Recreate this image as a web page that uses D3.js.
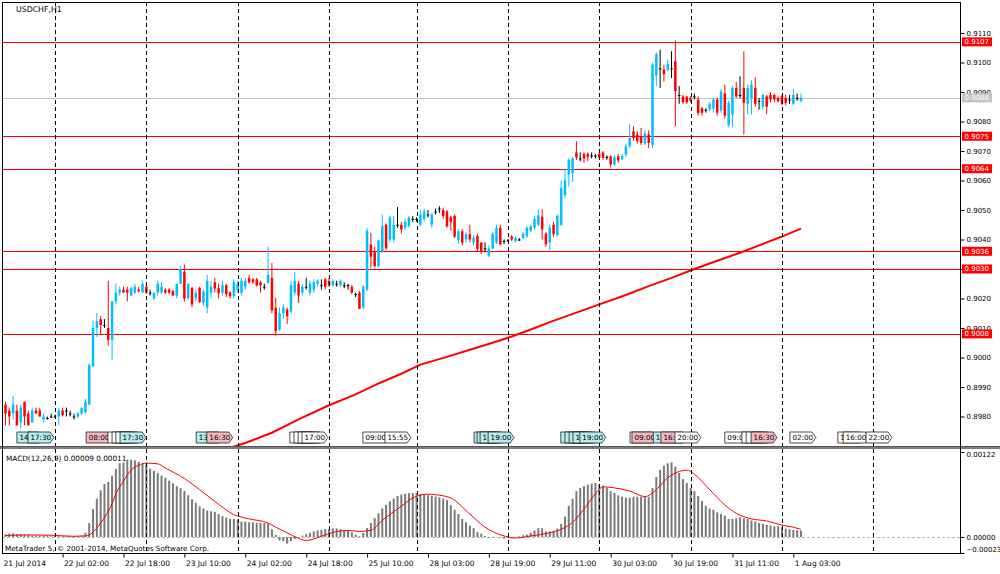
<!DOCTYPE html>
<html><head><meta charset="utf-8">
<script src="https://cdn.jsdelivr.net/npm/d3@7"></script>
<style>html,body{margin:0;padding:0;background:#fff;}svg{display:block;}text{font-family:"DejaVu Sans",sans-serif;}</style>
</head><body><svg id="c" width="1000" height="574"></svg>
<script>
// ---------------- DATA ----------------
const symbolTitle = "USDCHF,H1";
const macdTitle = "MACD(12,26,9) 0.00009 0.00011";
const copyright = "MetaTrader 5, \u00a9 2001-2014, MetaQuotes Software Corp.";

const opens = [
0.8984,0.8982,0.8981,0.8982,0.8978,0.8985,0.8981,0.8978,0.8982,0.8982,
0.8979,0.89795,0.898,0.898,0.898,0.8982,0.8982,0.8981,0.898,0.898,
0.8981,0.89815,0.8984,0.8997,0.901,0.9013,0.9011,0.901,0.9006,0.9019,
0.9022,0.9023,0.9023,0.9021,0.9022,0.9023,0.9022,0.9024,0.9022,0.902,
0.9022,0.9022,0.9023,0.9023,0.90225,0.9021,0.9025,0.9029,0.902,0.90235,
0.902,0.90236,0.90185,0.9017,0.9022,0.90255,0.90235,0.9022,0.90245,0.9022,
0.90208,0.9023,0.9022,0.9024,0.9027,0.90265,0.90265,0.90255,0.9024,0.90253,
0.9027,0.90168,0.90095,0.9015,0.90163,0.90155,0.9022,0.9025,0.9022,0.9024,
0.9022,0.9023,0.9025,0.90245,0.90265,0.9026,0.90245,0.9025,0.90245,0.90245,
0.90245,0.9024,0.90215,0.9022,0.9017,0.9023,0.90383,0.9036,0.9031,0.9036,
0.9045,0.904,0.904,0.9045,0.9045,0.9044,0.90445,0.9047,0.9047,0.9045,
0.9047,0.90485,0.9045,0.90495,0.90505,0.905,0.90495,0.90475,0.9048,0.90398,
0.90428,0.904,0.90418,0.9039,0.90412,0.9039,0.9037,0.90345,0.9037,0.9039,
0.9044,0.90395,0.90397,0.9041,0.90395,0.904,0.90405,0.90412,0.9043,0.9044,
0.9045,0.90477,0.9042,0.9039,0.9045,0.90415,0.9045,0.9055,0.9062,0.90625,
0.90695,0.90675,0.9069,0.9069,0.90685,0.90685,0.9069,0.90695,0.9068,0.90682,
0.90654,0.90682,0.90672,0.90688,0.90716,0.90767,0.90756,0.9075,0.90725,0.90756,
0.9072,0.90956,0.9098,0.90976,0.90975,0.9098,0.91004,0.9089,0.90885,0.90885,
0.9088,0.90885,0.90874,0.90845,0.9084,0.90841,0.90844,0.90874,0.90837,0.90896,
0.90788,0.90824,0.90914,0.9089,0.90914,0.9086,0.9088,0.90914,0.9087,0.9085,
0.90885,0.9089,0.9089,0.9088,0.90885,0.9088,0.90875,0.9086,0.9088,0.9087];

const highs = [
0.8985,0.8983,0.8987,0.8984,0.8984,0.8985,0.8982,0.8983,0.8983,0.8983,
0.8981,0.898,0.8981,0.89805,0.8983,0.8983,0.8983,0.8982,0.8981,0.89815,
0.8983,0.8986,0.8998,0.90125,0.9015,0.9014,0.9013,0.9026,0.9019,0.9025,
0.9024,0.9024,0.9024,0.9024,0.9025,0.9024,0.9026,0.9025,0.9023,0.9022,
0.9026,0.90255,0.90235,0.90235,0.9023,0.9025,0.9031,0.90315,0.9025,0.9024,
0.9023,0.9024,0.9023,0.9028,0.9026,0.9027,0.9025,0.9026,0.9025,0.90225,
0.90265,0.9026,0.9027,0.9027,0.9028,0.9027,0.9027,0.9026,0.9025,0.90375,
0.9032,0.90203,0.9017,0.9018,0.9017,0.9026,0.9029,0.9026,0.9025,0.9027,
0.9026,0.90265,0.90265,0.90265,0.9027,0.9027,0.90265,0.9026,0.90265,0.90255,
0.9025,0.90245,0.9022,0.90225,0.90245,0.9044,0.90423,0.90375,0.904,0.90484,
0.90455,0.9048,0.9048,0.9051,0.9046,0.9047,0.9048,0.9048,0.90475,0.905,
0.90505,0.905,0.9049,0.90505,0.90513,0.90508,0.905,0.9048,0.90485,0.90435,
0.90435,0.90425,0.9045,0.90415,0.9042,0.9039,0.9039,0.9038,0.90425,0.9045,
0.9045,0.904,0.90402,0.90415,0.9041,0.90405,0.90425,0.90445,0.9045,0.9048,
0.90502,0.90502,0.90425,0.9045,0.9046,0.90485,0.906,0.9064,0.90675,0.9068,
0.90733,0.90695,0.90695,0.90695,0.90695,0.9069,0.90695,0.907,0.90685,0.90685,
0.90685,0.9069,0.9069,0.90725,0.9079,0.90784,0.90767,0.90778,0.9077,0.9077,
0.91,0.91035,0.91043,0.90993,0.9101,0.91038,0.91075,0.9092,0.9089,0.90885,
0.90885,0.90895,0.90885,0.9085,0.90845,0.90865,0.9088,0.9088,0.9091,0.90925,
0.9087,0.9092,0.90934,0.90953,0.91038,0.90925,0.9094,0.9095,0.9088,0.90895,
0.9089,0.909,0.90895,0.90885,0.9089,0.9089,0.9089,0.9091,0.90895,0.90895];

const lows = [
0.8977,0.8977,0.8979,0.8977,0.8976,0.8977,0.8977,0.8978,0.8981,0.898,
0.8978,0.8979,0.89795,0.89795,0.8977,0.898,0.898,0.898,0.8979,0.89795,
0.89805,0.8981,0.8984,0.8997,0.9007,0.9008,0.901,0.9004,0.8999,0.9018,
0.9021,0.9022,0.9019,0.9021,0.90215,0.9022,0.9022,0.90215,0.9021,0.90195,
0.9021,0.90215,0.90215,0.90215,0.9021,0.902,0.9025,0.9019,0.90195,0.9017,
0.9019,0.90185,0.90174,0.9015,0.902,0.9022,0.902,0.9021,0.90205,0.902,
0.902,0.9022,0.9021,0.9023,0.9025,0.9025,0.9024,0.9022,0.9023,0.9025,
0.9015,0.90072,0.9009,0.9013,0.90114,0.9015,0.9021,0.90185,0.9021,0.9023,
0.9021,0.9022,0.9024,0.9023,0.9023,0.9024,0.9024,0.9024,0.9024,0.90235,
0.9023,0.90215,0.90205,0.90165,0.90165,0.90225,0.90304,0.90305,0.90305,0.90355,
0.90365,0.9039,0.9039,0.9044,0.9042,0.9043,0.9044,0.9046,0.9046,0.90445,
0.9046,0.90475,0.9044,0.90485,0.9049,0.9047,0.9044,0.9043,0.90405,0.90385,
0.9038,0.9039,0.9039,0.9038,0.9036,0.9035,0.90358,0.9034,0.90365,0.90385,
0.9038,0.90385,0.90392,0.90395,0.9039,0.90395,0.904,0.90405,0.90425,0.90435,
0.90445,0.904,0.90375,0.90365,0.9041,0.9041,0.90445,0.9054,0.9058,0.90595,
0.9067,0.90665,0.9066,0.90665,0.90675,0.90675,0.90675,0.9067,0.9067,0.90645,
0.9065,0.9066,0.9067,0.9068,0.9071,0.90735,0.90725,0.9072,0.9072,0.9071,
0.9071,0.9092,0.90914,0.90936,0.9097,0.90947,0.90784,0.9086,0.9086,0.9086,
0.90865,0.90875,0.9082,0.9082,0.9083,0.90835,0.9083,0.9082,0.9083,0.9081,
0.9078,0.9078,0.9088,0.9088,0.90756,0.90824,0.90824,0.9085,0.9084,0.9084,
0.90825,0.90865,0.90865,0.90865,0.90855,0.90855,0.9086,0.90855,0.9087,0.90865];

const closes = [
0.8981,0.898,0.8984,0.8977,0.8983,0.898,0.8977,0.8982,0.8981,0.898,
0.898,0.89795,0.898,0.898,0.8982,0.89805,0.8982,0.8981,0.898,0.8981,
0.8983,0.8985,0.89975,0.901,0.90123,0.9011,0.9011,0.9006,0.9019,0.9022,
0.9023,0.9022,0.9022,0.90235,0.9024,0.90225,0.9025,0.9022,0.9022,0.9022,
0.9025,0.9024,0.9022,0.9022,0.9021,0.9025,0.903,0.902,0.9025,0.9018,
0.9022,0.90188,0.90224,0.9026,0.9024,0.90234,0.90218,0.90245,0.90215,0.90208,
0.90255,0.9025,0.9026,0.9026,0.90255,0.90255,0.90245,0.90245,0.9024,0.9028,
0.9016,0.90089,0.9015,0.9017,0.9014,0.90245,0.9026,0.9021,0.9024,0.9024,
0.9025,0.90255,0.9026,0.90245,0.9024,0.90245,0.9026,0.9025,0.9026,0.90245,
0.90245,0.9022,0.90215,0.90165,0.9024,0.9043,0.90342,0.9031,0.90396,0.90445,
0.9037,0.90474,0.9045,0.9045,0.90434,0.9046,0.90474,0.9047,0.9047,0.90484,
0.90495,0.90485,0.90484,0.90495,0.90505,0.90479,0.90445,0.9046,0.9041,0.90428,
0.90389,0.90418,0.904,0.90406,0.90368,0.9036,0.9037,0.9037,0.9042,0.9044,
0.90384,0.90395,0.90397,0.904,0.90405,0.904,0.9042,0.9044,0.90445,0.9047,
0.90482,0.90434,0.90384,0.9044,0.90418,0.9048,0.90575,0.906,0.9067,0.90675,
0.90678,0.90675,0.90675,0.9068,0.90685,0.90685,0.90678,0.90677,0.9068,0.90654,
0.90679,0.90668,0.90683,0.90716,0.90744,0.90744,0.90733,0.90727,0.9076,0.90727,
0.90993,0.91027,0.9098,0.9096,0.90995,0.9098,0.90903,0.9089,0.90865,0.90865,
0.9087,0.90885,0.90829,0.9083,0.9084,0.90858,0.90874,0.9083,0.90902,0.9082,
0.90863,0.90914,0.90885,0.9089,0.90863,0.90914,0.90925,0.9086,0.9087,0.9089,
0.9085,0.90875,0.90875,0.90869,0.9086,0.90863,0.90875,0.9089,0.9088,0.9088];

// moving average: [bar, price]
const maPoints = [[58,0.8969],[63,0.8971],[70,0.89745],[77,0.8979],[85,0.89838],[92,0.89875],[98,0.89912],[104,0.89945],[109,0.89976],[116,0.90002],[122,0.90026],[128,0.9005],[133,0.90071],[138,0.90095],[143,0.9012],[150,0.90152],[156,0.9018],[163,0.90212],[169,0.90242],[175,0.9027],[181,0.903],[187,0.90328],[193,0.90355],[199,0.90385],[204,0.9041],[209,0.90437]];

const macdHist = [
0.00004,0.00005,0.00005,0.00004,0.00004,0.00003,0.00003,0.00002,0.00002,0.00002,
0.00002,0.00002,0.00001,0.00001,0.00001,0.00001,0.00001,0.00001,0.00001,0.00001,
0.00002,0.00006,0.0002,0.0004,0.00055,0.00067,0.00076,0.00079,0.00088,0.00098,
0.00106,0.00107,0.00111,0.00111,0.0011,0.00108,0.00106,0.00104,0.00098,0.00095,
0.00092,0.00088,0.00085,0.00081,0.00077,0.00073,0.0007,0.00066,0.0006,0.00054,
0.00049,0.00044,0.00041,0.00038,0.00037,0.00036,0.00033,0.0003,0.00028,0.00026,
0.00026,0.00025,0.00022,0.00022,0.00021,0.00021,0.0002,0.0002,0.0002,0.0002,
0.00011,0.00003,-0.00005,-0.00006,-0.000095,-0.00006,-0.00003,0.0,0.00002,0.00004,
0.00006,0.00008,0.000095,0.000104,0.000113,0.000113,0.000123,0.000123,0.000113,0.000104,
0.00009,0.000066,0.000033,0.00001,0.000057,0.000128,0.0002,0.00027,0.00034,0.00041,
0.00046,0.00051,0.00055,0.00059,0.00061,0.00062,0.00063,0.00063,0.00063,0.00062,
0.00061,0.0006,0.00059,0.00058,0.00057,0.00055,0.00053,0.000456,0.00039,0.000329,
0.000259,0.000212,0.000165,0.000127,0.00007,0.000047,0.000014,-0.000014,0.000003,0.000002,
-0.000009,-0.000024,-0.000014,-0.000014,0.000002,0.000009,0.000024,0.000033,0.000061,0.000094,
0.000127,0.000127,0.00008,0.00008,0.000089,0.000118,0.000188,0.000296,0.000447,0.00055,
0.000658,0.000705,0.000729,0.000752,0.000766,0.000776,0.000752,0.000738,0.000705,0.000658,
0.000635,0.000597,0.000578,0.000564,0.000564,0.000578,0.000578,0.000578,0.000578,0.000578,
0.000705,0.00086,0.000964,0.001025,0.001058,0.001072,0.00101,0.000917,0.000832,0.000776,
0.000705,0.000658,0.000588,0.000517,0.000447,0.000409,0.00039,0.000353,0.000329,0.000306,
0.000259,0.000259,0.000268,0.000282,0.000268,0.000259,0.000235,0.000221,0.000202,0.000188,
0.000174,0.000165,0.000155,0.000155,0.000141,0.00012,0.00011,0.0001,0.000095,0.00009];

// MACD signal line: [bar, value]
const signalPoints = [[0,0.00002],[6,0.00003],[12,0.000025],[18,0.00001],[21,0.000015],[22,0.00003],[25,0.0002],[28,0.00048],[29,0.00062],[31,0.0008],[33,0.00096],[35,0.00103],[37,0.00106],[40,0.00105],[42,0.00099],[47,0.00084],[51,0.00068],[56,0.00047],[60,0.00032],[64,0.00026],[69,0.0002],[71,0.00014],[74,0.00006],[77,-0.00002],[79,-0.00005],[83,0.00001],[86,0.000065],[90,0.000095],[93,0.00008],[96,0.000095],[99,0.00024],[104,0.00044],[107,0.00056],[111,0.000615],[114,0.0006],[117,0.00056],[122,0.00033],[126,0.00014],[131,0.000015],[134,-0.000015],[138,0.000015],[143,0.00006],[146,0.00011],[149,0.00021],[152,0.0004],[155,0.00062],[157,0.00072],[160,0.000705],[164,0.00066],[168,0.00058],[171,0.00068],[174,0.00085],[177,0.00094],[179,0.00096],[181,0.0009],[185,0.00068],[189,0.00046],[192,0.00034],[196,0.00026],[200,0.00023],[204,0.00017],[207,0.00014],[209,0.00011]];

const priceTicks = [0.9110,0.9100,0.9090,0.9080,0.9070,0.9060,0.9050,0.9040,0.9030,0.9020,0.9010,0.9000,0.8990,0.8980];
const levelLines = [0.9107,0.9075,0.9064,0.9036,0.9030,0.9008];
const bidPrice = 0.9088;
const macdTicks = [0.00122,0.0,-0.00023];
const separatorBars = [13,37,61,85,108,132,156,180,204,228];
const timeTicks = [[0,"21 Jul 2014"],[15,"22 Jul 02:00"],[31,"22 Jul 18:00"],[47,"23 Jul 10:00"],[63,"24 Jul 02:00"],[79,"24 Jul 18:00"],[95,"25 Jul 10:00"],[111,"28 Jul 03:00"],[127,"28 Jul 19:00"],[143,"29 Jul 11:00"],[159,"30 Jul 03:00"],[175,"30 Jul 19:00"],[191,"31 Jul 11:00"],[207,"1 Aug 03:00"]];
// calendar events: [bar position, time text, kind]  c=cyan p=pink w=white
const events = [[3.0,"14:00","c"],[5.9,"17:30","c"],[21.2,"08:00","p"],[26.9,"14:00","w"],[28.0,"15:00","w"],[29.0,"16:00","w"],[30.1,"17:30","c"],[50.1,"13:30","c"],[52.9,"16:30","p"],[74.7,"14:00","w"],[75.8,"15:00","w"],[76.9,"16:00","w"],[77.9,"17:00","w"],[93.9,"09:00","w"],[99.7,"15:55","w"],[123.1,"15:00","c"],[123.9,"16:00","c"],[124.7,"16:45","c"],[126.8,"19:00","c"],[145.9,"14:00","c"],[147.0,"15:00","c"],[148.1,"16:00","c"],[149.1,"17:00","c"],[150.9,"19:00","c"],[164.1,"08:30","w"],[164.6,"09:00","p"],[170.2,"14:30","c"],[172.2,"16:00","p"],[175.9,"20:00","w"],[189.0,"09:00","w"],[193.5,"13:30","w"],[194.6,"14:30","w"],[195.9,"16:30","p"],[206.1,"02:00","w"],[218.7,"15:00","w"],[220.1,"16:00","w"],[226.1,"22:00","w"]];

// ---------------- LAYOUT ----------------
const L=2, R=960, T=2, MB=446, MT=449, B=553;
const svg = d3.select("#c");
const n = closes.length;
const x = d3.scaleLinear().domain([0,209]).range([5.5,800.95]);
const y = d3.scaleLinear().domain([0.8980,0.9110]).range([416.5,33]);
const ym = d3.scaleLinear().domain([-0.00023,0.00122]).range([553,452]);
const FONT = "DejaVu Sans, sans-serif";

svg.append("rect").attr("width",1000).attr("height",574).attr("fill","#fff");
const defs = svg.append("defs");
defs.append("clipPath").attr("id","cm").append("rect").attr("x",L).attr("y",T).attr("width",R-L).attr("height",MB-T);
defs.append("clipPath").attr("id","cd").append("rect").attr("x",L).attr("y",MT).attr("width",R-L).attr("height",B-MT);

const main = svg.append("g").attr("clip-path","url(#cm)");
const sub = svg.append("g").attr("clip-path","url(#cd)");

// horizontal level lines
main.append("line").attr("x1",L).attr("x2",R).attr("y1",Math.round(y(bidPrice))+0.5).attr("y2",Math.round(y(bidPrice))+0.5).attr("stroke","#c0c0c0");
main.selectAll("line.lvl").data(levelLines).join("line").attr("class","lvl")
  .attr("x1",L).attr("x2",R).attr("y1",d=>Math.round(y(d))+0.5).attr("y2",d=>Math.round(y(d))+0.5)
  .attr("stroke","#ff0000").attr("stroke-width",1);

// period separators
[[T,MB],[MT,B]].forEach(([a,b])=>{
  svg.append("g").selectAll("line").data(separatorBars).join("line")
    .attr("x1",d=>Math.round(x(d))+0.5).attr("x2",d=>Math.round(x(d))+0.5)
    .attr("y1",a).attr("y2",b).attr("stroke","#000").attr("stroke-width",1).attr("stroke-dasharray","4,3");
});

// moving average
main.append("path").datum(maPoints)
  .attr("d",d3.line().x(d=>x(d[0])).y(d=>y(d[1])))
  .attr("fill","none").attr("stroke","#ff0000").attr("stroke-width",2);

// candles
const bars = d3.range(n).map(i=>({i,o:opens[i],h:highs[i],l:lows[i],c:closes[i]}));
const col = d=> d.c>d.o ? "#00bfff" : (d.c<d.o ? "#ff0000" : "#000000");
main.append("g").selectAll("line").data(bars).join("line")
  .attr("x1",d=>x(d.i)).attr("x2",d=>x(d.i))
  .attr("y1",d=>y(Math.max(d.h,d.o,d.c))).attr("y2",d=>y(Math.min(d.l,d.o,d.c)))
  .attr("stroke",col).attr("stroke-width",1);
main.append("g").selectAll("rect").data(bars).join("rect")
  .attr("x",d=>x(d.i)-1.25).attr("width",2.5)
  .attr("y",d=>y(Math.max(d.o,d.c))).attr("height",d=>Math.max(1,Math.abs(y(d.o)-y(d.c))))
  .attr("fill",col);

// calendar events (later flags cover earlier ones; only the visible part of a label is kept)
const evFill = {c:"#b2eef0", p:"#f5b8c0", w:"#ffffff"};
const evG = svg.append("g");
const EW = 26, EH = 11, EY = 432;
events.forEach((e,k)=>{
  const x0 = x(e[0]);
  const g = evG.append("g");
  g.append("path").attr("d",`M${x0},${EY}h${EW-4}l4,${EH/2}l-4,${EH/2}h${-(EW-4)}Z`)
    .attr("fill",evFill[e[2]]).attr("stroke","#222").attr("stroke-width",0.8);
  const next = k+1<events.length ? x(events[k+1][0]) : Infinity;
  const avail = Math.min(EW-2, next - x0 - 2.5 + 2);
  const t = g.append("text").attr("x",x0+2.5).attr("y",EY+8.3).attr("font-size",7.2).attr("font-family",FONT).attr("fill","#000");
  let s = e[1];
  t.text(s);
  while (s.length && t.node().getComputedTextLength() > avail) { s = s.slice(0,-1); t.text(s); }
  if (!s.length) t.remove();
});

// MACD panel
sub.append("line").attr("x1",L).attr("x2",R).attr("y1",Math.round(ym(0))+0.5).attr("y2",Math.round(ym(0))+0.5)
  .attr("stroke","#b8b8b8").attr("stroke-dasharray","3,2");
sub.append("g").selectAll("rect").data(macdHist.map((v,i)=>({i,v}))).join("rect")
  .attr("x",d=>x(d.i)-1).attr("width",2)
  .attr("y",d=>ym(Math.max(d.v,0))).attr("height",d=>Math.abs(ym(d.v)-ym(0)))
  .attr("fill","#7a7a7a");
sub.append("path").datum(signalPoints)
  .attr("d",d3.line().x(d=>x(d[0])).y(d=>ym(d[1])).curve(d3.curveMonotoneX))
  .attr("fill","none").attr("stroke","#ff0000").attr("stroke-width",1);

// separator band and frame
svg.append("rect").attr("x",0).attr("y",MB).attr("width",1000).attr("height",MT-MB).attr("fill","#7d7d7d");
svg.append("line").attr("x1",0).attr("x2",1000).attr("y1",MB+0.5).attr("y2",MB+0.5).attr("stroke","#555");
const frame = svg.append("g").attr("stroke","#000").attr("stroke-width",1);
frame.append("line").attr("x1",L+0.5).attr("x2",L+0.5).attr("y1",T).attr("y2",B+0.5);
frame.append("line").attr("x1",L).attr("x2",R+0.5).attr("y1",T+0.5).attr("y2",T+0.5);
frame.append("line").attr("x1",R+0.5).attr("x2",R+0.5).attr("y1",T).attr("y2",B+0.5);
frame.append("line").attr("x1",L).attr("x2",R+0.5).attr("y1",B+0.5).attr("y2",B+0.5);

// price axis
const py = svg.append("g").attr("transform",`translate(${R+0.5},0)`)
  .call(d3.axisRight(y).tickValues(priceTicks).tickSize(4).tickPadding(2).tickFormat(d3.format(".4f")));
py.select(".domain").remove();
py.attr("font-size",7).attr("font-family",FONT);

// level labels
function priceLabel(p, bg, fg){
  const yy = y(p);
  svg.append("rect").attr("x",962).attr("y",yy-4.5).attr("width",30).attr("height",9).attr("fill",bg);
  svg.append("text").attr("x",964.5).attr("y",yy).attr("dy","0.35em").attr("font-size",7).attr("font-family",FONT).attr("fill",fg).text(d3.format(".4f")(p));
}
// a tick label sitting exactly under a level label is fully hidden
py.selectAll(".tick").filter(d=>[bidPrice,...levelLines].some(p=>Math.abs(y(p)-y(d))<3)).select("text").remove();
priceLabel(bidPrice,"#c4c4c4","#ffffff");
levelLines.forEach(p=>priceLabel(p,"#ff0000","#ffffff"));

// MACD axis
const my = svg.append("g").attr("transform",`translate(${R+0.5},0)`)
  .call(d3.axisRight(ym).tickValues(macdTicks).tickSize(4).tickPadding(2).tickFormat(d3.format(".5f")));
my.select(".domain").remove();
my.attr("font-size",7).attr("font-family",FONT);
my.selectAll(".tick").filter(d=>d<0).select("text").attr("y",-4);
my.selectAll(".tick").filter(d=>d>0.001).select("text").attr("y",2);

// time axis
const tmap = new Map(timeTicks);
const tx = svg.append("g").attr("transform",`translate(0,${B+0.5})`)
  .call(d3.axisBottom(x).tickValues(timeTicks.map(d=>d[0])).tickSize(4).tickPadding(3).tickFormat(d=>tmap.get(d)));
tx.select(".domain").remove();
tx.attr("font-size",7.5).attr("font-family",FONT);
tx.selectAll(".tick text").attr("text-anchor","start").attr("x",1);
tx.selectAll(".tick").filter(d=>d===0).select("text").attr("x",L+1-x(0));
tx.selectAll(".tick").filter(d=>d===0).select("line").remove();

// titles
svg.append("text").attr("x",16).attr("y",12).attr("font-size",7.8).attr("font-family",FONT).attr("fill","#000").text(symbolTitle);
svg.append("text").attr("x",6).attr("y",461).attr("font-size",7.3).attr("font-family",FONT).attr("fill","#000").text(macdTitle);
svg.append("text").attr("x",5).attr("y",550.5).attr("font-size",7.2).attr("font-family",FONT).attr("fill","#000").text(copyright);
</script></body></html>
